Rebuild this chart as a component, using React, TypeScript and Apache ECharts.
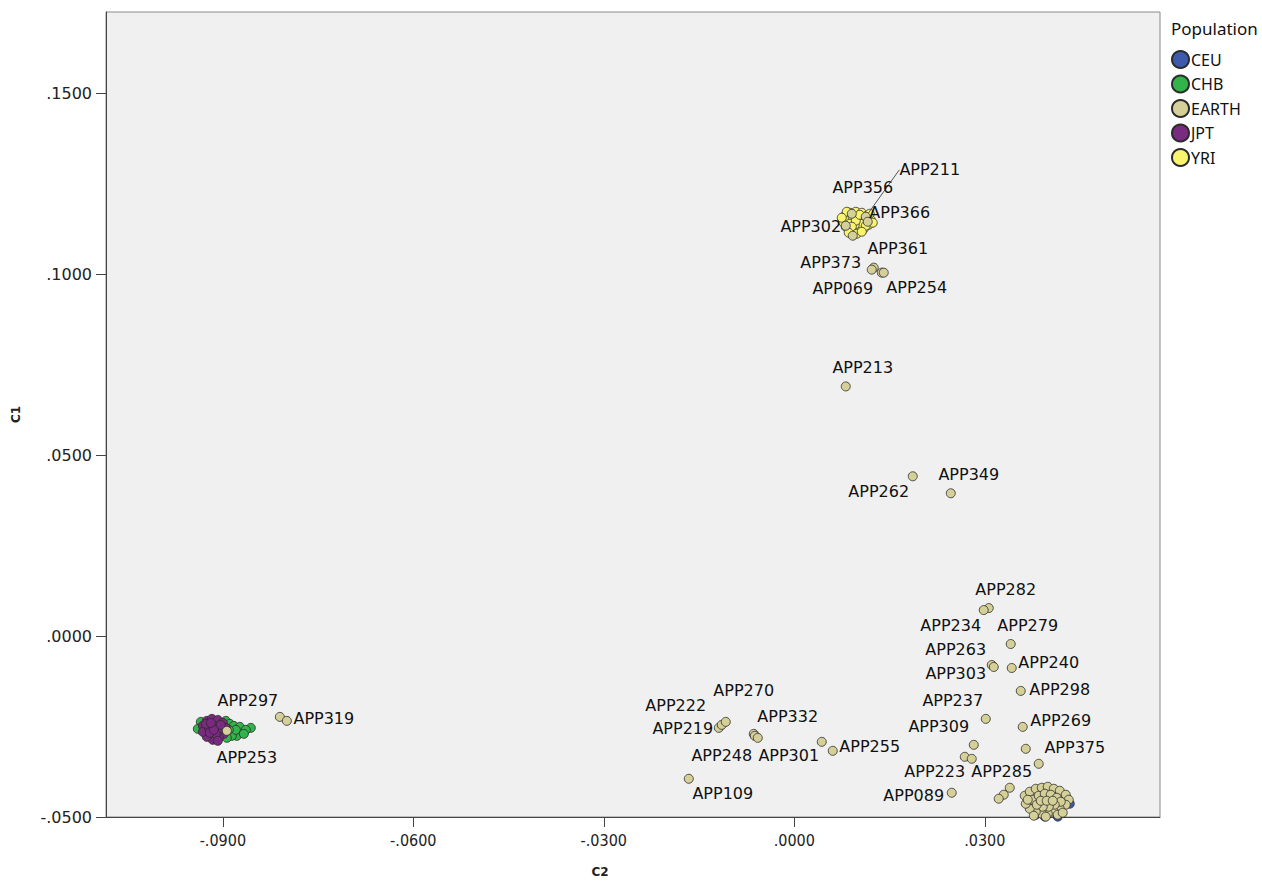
import { useEffect, useRef } from "react";
import * as echarts from "echarts";

const populations = ["CEU", "CHB", "EARTH", "JPT", "YRI"];
const popColors: Record<string, string> = {
  CEU: "#3d5aad",
  CHB: "#33b44a",
  EARTH: "#d5cf98",
  JPT: "#7a2a80",
  YRI: "#f9f46c",
};

const xTicks = [-0.09, -0.06, -0.03, 0, 0.03];
const yTicks = [-0.05, 0, 0.05, 0.1, 0.15];

const ceuPoints: [number, number][] = [
  [0.03866, -0.04357], [0.04339, -0.04633], [0.03945, -0.0499], [0.04024, -0.04826],
  [0.03835, -0.04771], [0.04102, -0.04495], [0.0374, -0.04661], [0.04213, -0.04716],
  [0.03992, -0.04661], [0.03929, -0.04495], [0.0415, -0.0499], [0.03803, -0.04937],
];

const chbPoints: [number, number][] = [
  [-0.09346, -0.02372], [-0.08953, -0.02344], [-0.0889, -0.02427], [-0.08827, -0.02482],
  [-0.08701, -0.02648], [-0.08559, -0.02537], [-0.0878, -0.02758], [-0.08858, -0.02758],
  [-0.08937, -0.02813], [-0.08732, -0.0251], [-0.08638, -0.02592], [-0.08795, -0.02592],
  [-0.08906, -0.02592], [-0.09016, -0.02648], [-0.09126, -0.0273], [-0.09236, -0.02675],
  [-0.09079, -0.02427], [-0.09205, -0.02482], [-0.09284, -0.02592], [-0.08669, -0.02703],
  [-0.09394, -0.02565],
];

const jptPoints: [number, number][] = [
  [-0.09315, -0.02482], [-0.09252, -0.02344], [-0.09173, -0.02289], [-0.09079, -0.02317],
  [-0.09, -0.02399], [-0.08953, -0.02537], [-0.08984, -0.02703], [-0.09063, -0.02813],
  [-0.09158, -0.02868], [-0.09252, -0.02786], [-0.09315, -0.02648], [-0.09221, -0.02537],
  [-0.09126, -0.02482], [-0.09047, -0.02565], [-0.0911, -0.02703], [-0.09205, -0.02675],
  [-0.09268, -0.02427], [-0.09032, -0.02455], [-0.09142, -0.02592], [-0.09079, -0.02896],
  [-0.09189, -0.02399],
];

const yriPoints: [number, number][] = [
  [0.00795, 0.11611], [0.00874, 0.11693], [0.00969, 0.11721], [0.01063, 0.11693],
  [0.01142, 0.11611], [0.01205, 0.115], [0.01173, 0.11362], [0.01094, 0.11252],
  [0.01, 0.11197], [0.0089, 0.11225], [0.00811, 0.11307], [0.00764, 0.11445],
  [0.00843, 0.115], [0.00921, 0.11556], [0.01016, 0.11556], [0.01094, 0.115],
  [0.01047, 0.1139], [0.00953, 0.11362], [0.00874, 0.1139], [0.00969, 0.11473],
  [0.01031, 0.11638], [0.00906, 0.11307], [0.01126, 0.11335], [0.00827, 0.11721],
  [0.01236, 0.11418], [0.00748, 0.11556], [0.00984, 0.11114], [0.01063, 0.11169],
  [0.00858, 0.11142], [0.01189, 0.11666],
];

// [name, C2, C1]; empty name = unlabeled
const earthPoints: [string, number, number][] = [
  ["APP211", 0.01126, 0.11583], ["APP356", 0.00906, 0.11666], ["APP366", 0.01157, 0.11445],
  ["APP302", 0.00811, 0.11335], ["", 0.00921, 0.11059],
  ["APP361", 0.01252, 0.10177], ["APP373", 0.0122, 0.10122], ["APP069", 0.01378, 0.10039],
  ["APP254", 0.01409, 0.10039], ["APP213", 0.00811, 0.06895], ["APP262", 0.01866, 0.04413],
  ["APP349", 0.02465, 0.03944], ["APP282", 0.03063, 0.00772], ["APP234", 0.02984, 0.00717],
  ["APP279", 0.03409, -0.00221], ["APP263", 0.0311, -0.008], ["APP303", 0.03142, -0.00855],
  ["APP240", 0.03425, -0.00883], ["APP298", 0.03567, -0.01517], ["APP237", 0.03016, -0.02289],
  ["APP269", 0.03598, -0.0251], ["APP309", 0.02827, -0.03006], ["APP375", 0.03646, -0.03116],
  ["APP223", 0.02685, -0.03337], ["APP285", 0.02795, -0.03392], ["", 0.0385, -0.0353],
  ["APP089", 0.0248, -0.0433], ["", 0.03394, -0.04192], ["", 0.03299, -0.04385],
  ["", 0.0322, -0.04495],
  ["APP219", -0.01189, -0.02537], ["APP222", -0.01142, -0.02455], ["APP270", -0.01079, -0.02372],
  ["APP332", -0.00638, -0.02703], ["APP248", -0.00622, -0.02758], ["APP301", -0.00575, -0.02813],
  ["", 0.00433, -0.02923], ["APP255", 0.00606, -0.03172], ["APP109", -0.01661, -0.03944],
  ["APP297", -0.08102, -0.02234], ["APP319", -0.07992, -0.02344], ["APP253", -0.08937, -0.0262],
  // main cluster near CEU
  ["", 0.0363, -0.04413], ["", 0.03709, -0.04302], ["", 0.03803, -0.0422], ["", 0.03898, -0.04192],
  ["", 0.03992, -0.04164], ["", 0.04087, -0.0422], ["", 0.04181, -0.04275], ["", 0.04276, -0.04385],
  ["", 0.04323, -0.04523], ["", 0.04276, -0.04661], ["", 0.04181, -0.04771], ["", 0.04087, -0.04854],
  ["", 0.03992, -0.04909], ["", 0.03898, -0.04909], ["", 0.03803, -0.04854], ["", 0.03709, -0.04771],
  ["", 0.03646, -0.04633], ["", 0.03756, -0.04523], ["", 0.0385, -0.04413], ["", 0.03945, -0.04357],
  ["", 0.04039, -0.04385], ["", 0.04134, -0.04468], ["", 0.04197, -0.04578], ["", 0.04102, -0.04661],
  ["", 0.04008, -0.04716], ["", 0.03913, -0.04716], ["", 0.03819, -0.04661], ["", 0.03882, -0.04551],
  ["", 0.03976, -0.04551], ["", 0.04071, -0.04551], ["", 0.03772, -0.04964], ["", 0.03961, -0.0499],
  ["", 0.0415, -0.04937], ["", 0.03677, -0.04523], ["", 0.04228, -0.04881],
];

// label placement (pixel offset of the label centre from its point)
const labelOffsets: Record<string, [number, number]> = {
  APP211: [64, -47], APP356: [11, -26], APP366: [32, -9], APP302: [-35, 1],
  APP361: [24, -19], APP373: [-41, -7], APP069: [-39, 16], APP254: [33, 15],
  APP213: [17, -19], APP262: [-34, 15], APP349: [18, -19],
  APP282: [17, -19], APP234: [-33, 15], APP279: [17, -19], APP263: [-36, -15],
  APP303: [-38, 7], APP240: [37, -5], APP298: [39, -1], APP237: [-33, -18],
  APP269: [38, -6], APP309: [-35, -18], APP375: [49, -1], APP223: [-30, 15],
  APP285: [30, 13], APP089: [-38, 3],
  APP219: [-36, 1], APP222: [-46, -19], APP270: [18, -31], APP332: [34, -17],
  APP248: [-33, 20], APP301: [31, 18], APP255: [37, -4], APP109: [34, 15],
  APP297: [-32, -16], APP319: [37, -2], APP253: [20, 27],
};

const fmt = (v: number) => v.toFixed(4).replace(/^(-?)0\./, "$1.");

export default function App() {
  const ref = useRef<HTMLDivElement>(null);
  useEffect(() => {
    if (!ref.current) return;
    const chart = echarts.init(ref.current, undefined, { renderer: "svg" });
    const baseSeries = (name: string, data: any[], extra: any = {}) => ({
      type: "scatter",
      name,
      data,
      symbolSize: 9,
      itemStyle: { color: popColors[name], borderColor: "#2b2b2b", borderWidth: 0.8, opacity: 1 },
      emphasis: { disabled: true },
      ...extra,
    });
    const earthData = earthPoints.map(([n, x, y]) => ({
      name: n,
      value: [x, y],
      label: { show: !!labelOffsets[n] },
      labelLine: { show: n === "APP211" },
    }));
    chart.setOption({
      animation: false,
      backgroundColor: "#ffffff",
      title: {
        text: "Population",
        left: 1171,
        top: 20,
        padding: 0,
        textStyle: { fontFamily: "Noto Sans", fontSize: 17, fontWeight: "normal", color: "#111" },
      },
      legend: {
        orient: "vertical",
        left: 1171,
        top: 50,
        padding: 0,
        itemWidth: 17,
        itemHeight: 17,
        itemGap: 5.5,
        icon: "circle",
        selectedMode: false,
        data: populations,
        textStyle: { fontFamily: "Noto Sans", fontSize: 16, color: "#111", padding: [0, 0, 0, -3] },
      },
      grid: {
        left: 106,
        top: 12,
        right: 102,
        bottom: 60,
        show: true,
        backgroundColor: "#f0f0f0",
        borderColor: "#8a8a8a",
        borderWidth: 1,
      },
      xAxis: {
        type: "value",
        min: -0.1084,
        max: 0.0576,
        name: "C2",
        nameLocation: "middle",
        nameGap: 49,
        nameTextStyle: { fontFamily: "DejaVu Sans", fontWeight: "bold", fontSize: 12, color: "#222", padding: [0, 66, 0, 0] },
        axisLine: { show: true, onZero: false, lineStyle: { color: "#444", width: 1 } },
        axisTick: { show: true, customValues: xTicks, length: 10, lineStyle: { color: "#444" } },
        axisLabel: { customValues: xTicks, formatter: fmt, margin: 15, fontFamily: "'DejaVu Sans Condensed', 'DejaVu Sans'", fontSize: 16, color: "#222" },
        splitLine: { show: false },
      },
      yAxis: {
        type: "value",
        min: -0.05,
        max: 0.1724,
        name: "C1",
        nameLocation: "middle",
        nameGap: 84,
        nameRotate: 90,
        nameTextStyle: { fontFamily: "DejaVu Sans", fontWeight: "bold", fontSize: 12, color: "#222" },
        axisLine: { show: true, onZero: false, lineStyle: { color: "#444", width: 1 } },
        axisTick: { show: true, customValues: yTicks, length: 10, lineStyle: { color: "#444" } },
        axisLabel: { customValues: yTicks, formatter: fmt, margin: 14, fontFamily: "DejaVu Sans", fontSize: 16, color: "#222" },
        splitLine: { show: false },
      },
      series: [
        baseSeries("CEU", ceuPoints),
        baseSeries("CHB", chbPoints),
        baseSeries("EARTH", earthData, {
          z: 3,
          label: {
            show: false,
            position: "inside",
            formatter: "{b}",
            color: "#111",
            fontFamily: "DejaVu Sans",
            fontSize: 16,
            textBorderWidth: 0,
          },
          labelLine: { show: false, lineStyle: { color: "#555", width: 1 } },
          labelLayout: (p: any) => {
            const o = labelOffsets[p.text];
            return o ? { dx: o[0], dy: o[1] } : {};
          },
        }),
        baseSeries("JPT", jptPoints),
        baseSeries("YRI", yriPoints),
      ],
    });
    return () => chart.dispose();
  }, []);
  return <div ref={ref} style={{ position: "fixed", left: 0, top: 0, width: 1262, height: 883 }} />;
}
